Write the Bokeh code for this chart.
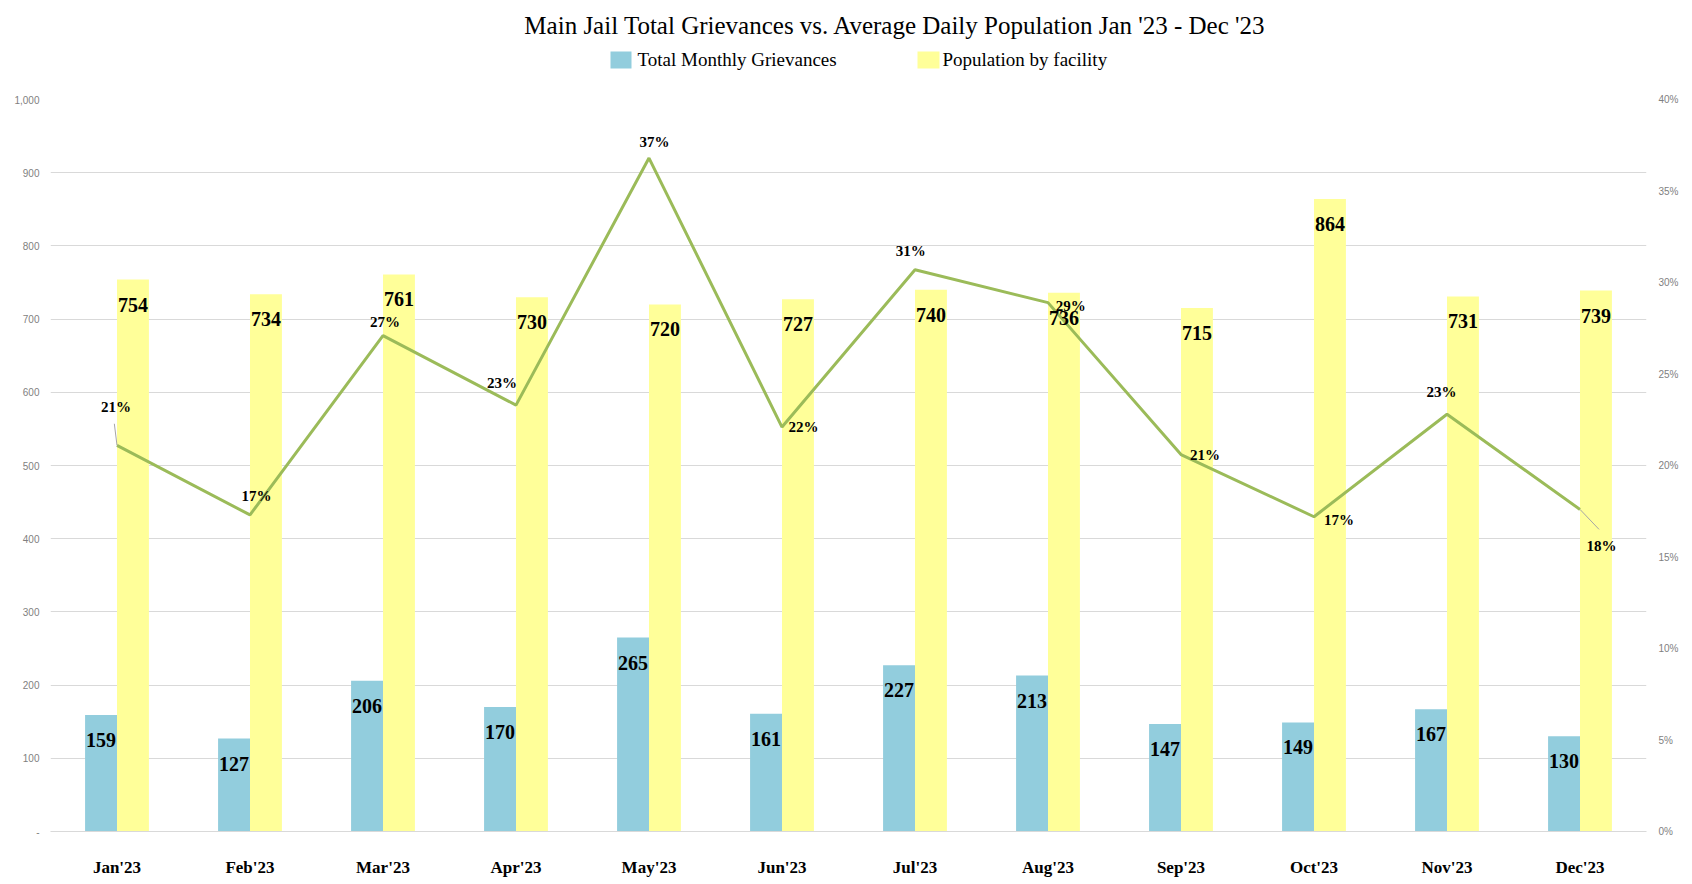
from bokeh.plotting import figure
from bokeh.layouts import column
from bokeh.models import (ColumnDataSource, FactorRange, Range1d, LinearAxis, LabelSet,
                          FixedTicker, NumeralTickFormatter)
from bokeh.transform import dodge
from bokeh.core.properties import value
from bokeh.embed import file_html
from bokeh.resources import INLINE

# ---------------- data ----------------
months = ["Jan'23", "Feb'23", "Mar'23", "Apr'23", "May'23", "Jun'23",
          "Jul'23", "Aug'23", "Sep'23", "Oct'23", "Nov'23", "Dec'23"]
grievances = [159, 127, 206, 170, 265, 161, 227, 213, 147, 149, 167, 130]
population = [754, 734, 761, 730, 720, 727, 740, 736, 715, 864, 731, 739]
ratio = [0.211, 0.173, 0.271, 0.233, 0.368, 0.221, 0.307, 0.289, 0.206, 0.172, 0.228, 0.176]
left_ticks = [0, 100, 200, 300, 400, 500, 600, 700, 800, 900, 1000]
right_ticks = [0, 0.05, 0.10, 0.15, 0.20, 0.25, 0.30, 0.35, 0.40]
title_text = "Main Jail Total Grievances vs. Average Daily Population  Jan '23 - Dec '23"
series_names = ["Total Monthly Grievances", "Population by facility"]

# ---------------- styles / label placement (pixels) ----------------
BLUE = "#92CDDD"
YELLOW = "#FFFF99"
GREEN = "#9BBB59"
GRID = "#D9D9D9"
SERIF = "Liberation Serif"
W = 1692
HEADER_H = 92
TOTAL_H = 879
BORDER_L = 50
BORDER_R = 46
pct_dx = [-1, 6.5, 2, -14, 5.4, 21.6, -4.3, 22.7, 24, 25, -5.4, 21.6]
pct_dy = [38, 19, 14, 22, 16, 0, 19, -3, 0, -3, 22, -37]

# ---------------- header: title + legend ----------------
# the header frame is aligned with the chart frame, so map it to page pixels
hdr = figure(width=W, height=HEADER_H, x_range=Range1d(BORDER_L, W - BORDER_R),
             y_range=Range1d(0, HEADER_H),
             output_backend="svg", toolbar_location=None,
             min_border=0, min_border_left=BORDER_L, min_border_right=BORDER_R,
             min_border_top=0, min_border_bottom=0)
hdr.axis.visible = False
hdr.grid.visible = False
hdr.outline_line_color = None
hdr.text(x=[898], y=[67], text=[title_text], text_align="center", text_baseline="middle",
         text_font=value(SERIF), text_font_size="25px", text_color="black")
leg_src = ColumnDataSource(dict(
    left=[610, 917], right=[631, 939], name=series_names, color=[BLUE, YELLOW],
    tx=[637, 942],
))
hdr.quad(left="left", right="right", bottom=24, top=41, fill_color="color", line_color=None,
         source=leg_src)
hdr.text(x="tx", y=33, text="name", text_align="left", text_baseline="middle",
         text_font=value(SERIF), text_font_size="19px", text_color="black", source=leg_src)

# ---------------- main chart ----------------
src = ColumnDataSource(dict(
    month=months,
    griev=grievances,
    pop=population,
    ratio=ratio,
    griev_txt=[str(v) for v in grievances],
    pop_txt=[str(v) for v in population],
    ratio_txt=[f"{round(v * 100)}%" for v in ratio],
    dx=pct_dx,
    dy=pct_dy,
))

p = figure(width=W, height=TOTAL_H - HEADER_H,
           x_range=FactorRange(*months, range_padding=0),
           y_range=Range1d(0, 1000),
           output_backend="svg", toolbar_location=None,
           min_border_left=BORDER_L, min_border_right=BORDER_R, min_border_top=7,
           min_border_bottom=44)
p.extra_y_ranges = {"pct": Range1d(0, 0.4)}
p.outline_line_color = None

p.xgrid.grid_line_color = None
p.ygrid.grid_line_color = GRID
p.ygrid.grid_line_width = 1.2
p.ygrid.ticker = FixedTicker(ticks=left_ticks)

# left axis
ya = p.yaxis[0]
ya.ticker = FixedTicker(ticks=left_ticks)
ya.formatter = NumeralTickFormatter(format="0,0")
ya.major_label_overrides = {0: "-"}
ya.axis_line_color = None
ya.major_tick_line_color = None
ya.minor_tick_line_color = None
ya.major_tick_out = 0
ya.major_tick_in = 0
ya.major_label_text_font = "Liberation Sans"
ya.major_label_text_font_size = "10px"
ya.major_label_text_color = "#7F7F7F"
ya.major_label_standoff = 11

# right axis
ra = LinearAxis(y_range_name="pct", ticker=FixedTicker(ticks=right_ticks),
                formatter=NumeralTickFormatter(format="0%"))
ra.axis_line_color = None
ra.major_tick_line_color = None
ra.minor_tick_line_color = None
ra.major_tick_out = 0
ra.major_tick_in = 0
ra.major_label_text_font = "Liberation Sans"
ra.major_label_text_font_size = "10px"
ra.major_label_text_color = "#7F7F7F"
ra.major_label_standoff = 12
p.add_layout(ra, "right")

# x axis
xa = p.xaxis[0]
xa.axis_line_color = GRID
xa.axis_line_width = 1.2
xa.major_tick_line_color = None
xa.minor_tick_line_color = None
xa.major_tick_out = 0
xa.major_tick_in = 0
xa.major_label_text_font = SERIF
xa.major_label_text_font_style = "bold"
xa.major_label_text_font_size = "17px"
xa.major_label_text_color = "black"
xa.major_label_standoff = 26

# bars
p.vbar(x=dodge("month", -0.12, range=p.x_range), top="griev", width=0.24,
       fill_color=BLUE, line_color=None, source=src)
p.vbar(x=dodge("month", 0.12, range=p.x_range), top="pop", width=0.24,
       fill_color=YELLOW, line_color=None, source=src)

p.add_layout(LabelSet(x=dodge("month", -0.12, range=p.x_range), y="griev", text="griev_txt",
                      y_offset=-25, text_align="center", text_baseline="middle",
                      text_font=value(SERIF), text_font_style="bold", text_font_size="20px",
                      text_color="black", source=src))
p.add_layout(LabelSet(x=dodge("month", 0.12, range=p.x_range), y="pop", text="pop_txt",
                      y_offset=-25, text_align="center", text_baseline="middle",
                      text_font=value(SERIF), text_font_style="bold", text_font_size="20px",
                      text_color="black", source=src))

# ratio line
p.line(x="month", y="ratio", y_range_name="pct", line_color=GREEN, line_width=3, source=src)

# leader lines for Jan and Dec labels
lead_a = ColumnDataSource(dict(m=[months[0]], r0=[ratio[0]], r1=[ratio[0] + 0.0118]))
p.segment(x0=dodge("m", 0, range=p.x_range), y0="r0", x1=dodge("m", -0.02, range=p.x_range), y1="r1",
          y_range_name="pct", line_color="#A6A6A6", line_width=1, source=lead_a)
lead_b = ColumnDataSource(dict(m=[months[-1]], r0=[ratio[-1]], r1=[ratio[-1] - 0.0109]))
p.segment(x0=dodge("m", 0, range=p.x_range), y0="r0", x1=dodge("m", 0.143, range=p.x_range), y1="r1",
          y_range_name="pct", line_color="#A6A6A6", line_width=1, source=lead_b)

p.add_layout(LabelSet(x="month", y="ratio", y_range_name="pct", text="ratio_txt",
                      x_offset="dx", y_offset="dy", text_align="center", text_baseline="middle",
                      text_font=value(SERIF), text_font_style="bold", text_font_size="15px",
                      text_color="black", source=src))

layout = column(hdr, p, spacing=0)
open("out.html", "w").write(file_html(layout, INLINE))
